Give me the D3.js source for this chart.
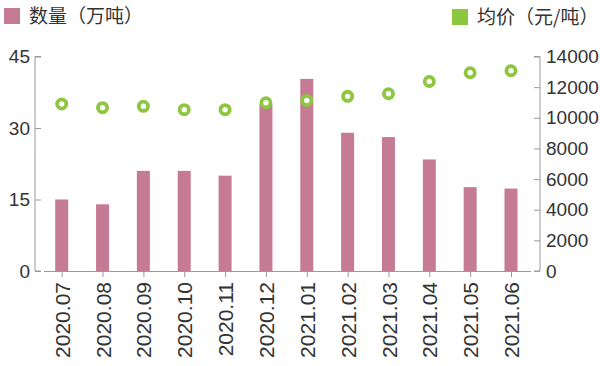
<!DOCTYPE html>
<html><head><meta charset="utf-8">
<script src="https://cdn.jsdelivr.net/npm/d3@7"></script>
<style>
body{margin:0;background:#fff;}
text{font-family:"Liberation Sans",Arial,"Noto Sans CJK SC",sans-serif;fill:#333;}
</style></head>
<body><svg id="c" width="600" height="366"></svg>
<script>
const categories = ["2020.07","2020.08","2020.09","2020.10","2020.11","2020.12","2021.01","2021.02","2021.03","2021.04","2021.05","2021.06"];
const quantity = [15, 14, 21, 21, 20, 35, 40.3, 29, 28.1, 23.4, 17.6, 17.3];
const price = [10900, 10660, 10750, 10530, 10530, 10980, 11130, 11400, 11570, 12370, 12940, 13070];
const leftTicks = [0, 15, 30, 45];
const rightTicks = [0, 2000, 4000, 6000, 8000, 10000, 12000, 14000];
const legendLabels = ["数量（万吨）", "均价（元/吨）"];

const barColor = "#c67b95", dotColor = "#8dc63f", axisColor = "#9a9a9a";
const svg = d3.select("#c");
const x = d3.scalePoint().domain(categories).range([61.7, 511]);
const yL = d3.scaleLinear().domain([0, 45]).range([271, 56.5]);
const yR = d3.scaleLinear().domain([0, 14000]).range([271, 56.5]);

// bars
svg.append("g").selectAll("rect").data(quantity).join("rect")
  .attr("x", (d,i) => x(categories[i]) - 6.5)
  .attr("width", 13)
  .attr("y", d => yL(d))
  .attr("height", d => yL(0) - yL(d))
  .attr("fill", barColor);

// left axis
const gl = svg.append("g").attr("transform","translate(35,0)");
gl.call(d3.axisRight(yL).tickValues(leftTicks).tickSize(6).tickFormat(d3.format("d")));
gl.select(".domain").attr("stroke", axisColor).attr("d", `M6,${yL(45)}H0V${yL(0)}H6`);
gl.selectAll(".tick line").attr("stroke", axisColor);
gl.selectAll(".tick text").attr("x", -5).attr("text-anchor","end").attr("font-size",19).attr("fill","#333").style("font-family",'"Liberation Sans",Arial,sans-serif');

// right axis
const gr = svg.append("g").attr("transform","translate(540,0)");
gr.call(d3.axisLeft(yR).tickValues(rightTicks).tickSize(6).tickFormat(d3.format("d")));
gr.select(".domain").attr("stroke", axisColor).attr("d", `M-6,${yR(14000)}H0V${yR(0)}H-6`);
gr.selectAll(".tick line").attr("stroke", axisColor);
gr.selectAll(".tick text").attr("x", 6).attr("text-anchor","start").attr("font-size",19).attr("fill","#333").style("font-family",'"Liberation Sans",Arial,sans-serif');

// x axis
const gx = svg.append("g").attr("transform",`translate(0,${yL(0)})`);
gx.call(d3.axisBottom(x).tickSize(6).tickSizeOuter(0));
gx.select(".domain").attr("stroke", axisColor).attr("d","M44,0.5H531");
gx.selectAll(".tick line").attr("stroke", axisColor);
gx.selectAll(".tick text")
  .attr("transform","rotate(-90)")
  .attr("x", -11).attr("y", 0).attr("dy","0.36em")
  .attr("text-anchor","end").attr("font-size",21).attr("fill","#222")
  .style("font-family",'"Liberation Sans",Arial,sans-serif');

// price dots
svg.append("g").selectAll("circle").data(price).join("circle")
  .attr("cx", (d,i) => x(categories[i]))
  .attr("cy", d => yR(d))
  .attr("r", 4.6)
  .attr("fill", "#fff")
  .attr("stroke", dotColor)
  .attr("stroke-width", 3.8);

// legend
const lg = svg.append("g");
lg.append("rect").attr("x",4).attr("y",8).attr("width",16).attr("height",16).attr("fill",barColor);
lg.append("text").attr("x",29).attr("y",23).attr("font-size",19).text(legendLabels[0])
  .style("font-family",'"Noto Sans CJK SC",sans-serif').attr("fill","#444");
lg.append("rect").attr("x",452).attr("y",9).attr("width",16).attr("height",16).attr("fill",dotColor);
lg.append("text").attr("x",477).attr("y",24).attr("font-size",19).text(legendLabels[1])
  .style("font-family",'"Noto Sans CJK SC",sans-serif').attr("fill","#444");
</script></body></html>
